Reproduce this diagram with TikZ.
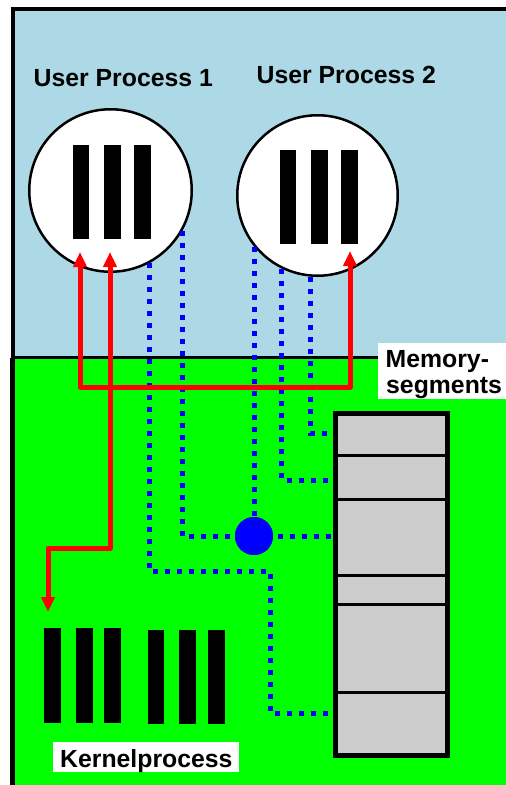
\documentclass[tikz,border=0pt]{standalone}
\usepackage{fontspec}
\setmainfont{Liberation Sans}
\usetikzlibrary{arrows.meta}
\definecolor{skyb}{HTML}{ADD8E6}
\definecolor{grn}{HTML}{00FF00}
\definecolor{memgray}{HTML}{CCCCCC}
\begin{document}
\begin{tikzpicture}[x=1pt,y=-1pt,
  bar/.style={fill=black, inner sep=0pt, minimum width=16.5pt, minimum height=94pt},
  proc/.style={circle, draw=black, line width=2.5pt, fill=white, inner sep=0pt},
  lbl/.style={font=\fontsize{24.8}{26}\selectfont\bfseries, inner sep=0pt, anchor=base west},
  dots/.style={draw=blue, line width=5pt, dash pattern=on 5pt off 7pt},
  redarrow/.style={draw=red, line width=5pt, line join=round,
    arrows={Triangle[width=13pt,length=15pt]-Triangle[width=13pt,length=15pt]}}
]
\useasboundingbox (0,0) rectangle (506,785);
\clip (0,0) rectangle (506,785);
\fill[white] (0,0) rectangle (506,785);
% backgrounds
\fill[skyb] (13,9) rectangle (520,358);
\fill[grn] (10,358) rectangle (520,800);
\draw[line width=1.2pt] (10.6,358) -- (10.6,800);
\draw[line width=3.5pt] (13,800) -- (13,9) -- (520,9);
\draw[line width=3pt] (11,357.5) -- (520,357.5);

% user processes
\node[proc, minimum size=162.5pt] (c1) at (110.5,190.5) {};
\node[proc, minimum size=160.5pt] (c2) at (317.5,195.5) {};
\node[bar] (b11) at (81,192) {};
\node[bar] (b12) at (112.5,192) {};
\node[bar] (b13) at (142.5,192) {};
\node[bar] (b21) at (288,197) {};
\node[bar] (b22) at (319.5,197) {};
\node[bar] (b23) at (349.5,197) {};

% kernel bars
\node[bar, minimum height=95pt] (k1) at (52.5,675.5) {};
\node[bar, minimum height=95pt] (k2) at (84.5,675.5) {};
\node[bar, minimum height=95pt] (k3) at (112.5,675.5) {};
\node[bar] (k4) at (156,677) {};
\node[bar] (k5) at (187.5,677) {};
\node[bar] (k6) at (216.5,677) {};

% memory segments
\node[draw=black, line width=5pt, fill=memgray, minimum width=112pt, minimum height=342.5pt, inner sep=0pt] (mem) at (391.5,584.25) {};
\foreach \yy in {455.7,499.2,575.5,604.3,692.3}
  \draw[line width=3pt] (335.5,\yy) -- (447.5,\yy);

% blue dotted connectors
\node[circle, fill=blue, minimum size=38pt, inner sep=0pt] (hub) at (254,536) {};
\coordinate (a1) at (270.7,571.7);
\coordinate (a2) at (270.7,713.3);
\coordinate (d1) at (281.5,480);
\coordinate (e1) at (310,433.3);
\draw[dots] (c1.-62.2) |- (a1) -- (a2) -- (a2 -| mem.west);
\draw[dots] (c1.-29.9) |- (hub.center);
\draw[dots] (hub.center) -- (hub.center -| mem.west);
\draw[dots] (c2.-141.2 -| hub.center) -- (hub.center);
\draw[dots] (c2.-116.6) |- (d1 -| mem.west);
\draw[dots] (c2.-95.3) |- (e1 -| mem.west);
\fill[blue] (hub.center) circle[radius=19pt];

% red arrows
\coordinate (t1) at (80,252);
\coordinate (j1) at (80,387);
\coordinate (j2) at (350,387);
\coordinate (t2) at (350,251);
\coordinate (t3) at (110,252);
\coordinate (j3) at (110,548);
\coordinate (j4) at (48,548);
\coordinate (t4) at (48,612);
\draw[redarrow] (t1) -- (j1) -- (j2) -- (t2);
\draw[redarrow] (t3) -- (j3) -- (j4) -- (t4);

% labels
\node[lbl] (u1) at (33.5,86) {User Process 1};
\node[lbl] (u2) at (256.5,83) {User Process 2};
\fill[white] (378,343) rectangle (506,399);
\node[lbl] (m1) at (385.5,367.5) {Memory-};
\node[lbl] (m2) at (386,393) {segments};
\fill[white] (53,742) rectangle (239,772);
\node[lbl] (kl) at (60,767) {Kernelprocess};
\end{tikzpicture}
\end{document}
